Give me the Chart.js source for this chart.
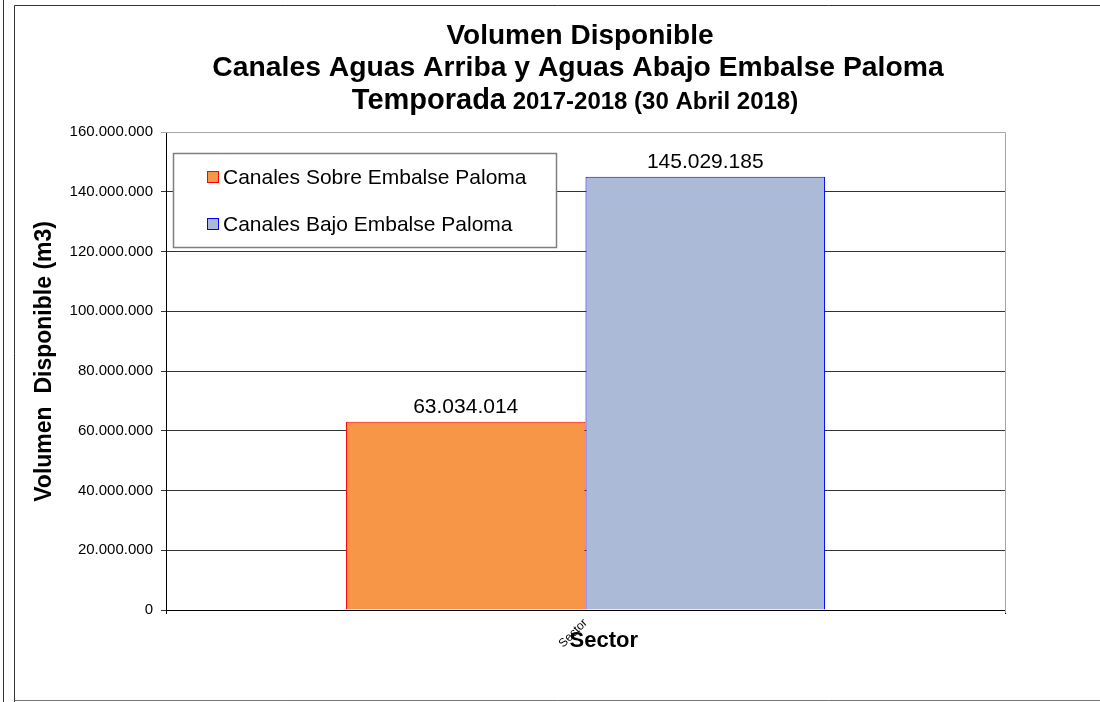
<!DOCTYPE html>
<html>
<head>
<meta charset="utf-8">
<script src="https://cdn.jsdelivr.net/npm/chart.js@4.4.0/dist/chart.umd.min.js"></script>
<style>
    html, body { margin: 0; padding: 0; background: #fff; }
    #wrap { width: 1100px; height: 702px; position: relative; }
</style>
</head>
<body>
<div id="wrap"><canvas id="chart"></canvas></div>
<script>
    const categories = ['Sector'];
    const seriesNames = ['Canales Sobre Embalse Paloma', 'Canales Bajo Embalse Paloma'];
    const sobreValues = [63034014];
    const bajoValues = [145029185];
    const yTicks = [0, 20000000, 40000000, 60000000, 80000000, 100000000, 120000000, 140000000, 160000000];
    const titleLine1 = 'Volumen Disponible';
    const titleLine2 = 'Canales Aguas Arriba y Aguas Abajo Embalse Paloma';
    const titleLine3 = ['Temporada', ' 2017-2018 (30 Abril 2018)'];

    const FONT = "'Liberation Sans', Arial, sans-serif";
    Chart.defaults.font.family = FONT;
    Chart.defaults.color = '#000';

    function fmt(v) {
        return String(Math.round(v)).replace(/\B(?=(\d{3})+(?!\d))/g, '.');
    }

    // white page + the outer frame lines
    const framePlugin = {
        id: 'frame',
        beforeDraw(chart) {
            const ctx = chart.ctx;
            ctx.save();
            ctx.fillStyle = '#fff';
            ctx.fillRect(0, 0, chart.width, chart.height);
            ctx.lineWidth = 1;
            ctx.strokeStyle = '#333';
            ctx.beginPath();
            ctx.moveTo(3.5, 0); ctx.lineTo(3.5, chart.height);
            ctx.moveTo(14.5, chart.height); ctx.lineTo(14.5, 5.5); ctx.lineTo(chart.width, 5.5);
            ctx.stroke();
            ctx.strokeStyle = '#777';
            ctx.beginPath();
            ctx.moveTo(14.5, 700.5); ctx.lineTo(chart.width, 700.5);
            ctx.stroke();
            ctx.restore();
        }
    };

    const titlePlugin = {
        id: 'mixedTitle',
        afterDraw(chart) {
            const ctx = chart.ctx;
            ctx.save();
            ctx.fillStyle = '#000';
            ctx.textBaseline = 'alphabetic';
            ctx.textAlign = 'center';
            ctx.font = 'bold 28px ' + FONT;
            ctx.fillText(titleLine1, 580, 44);
            ctx.font = 'bold 28.3px ' + FONT;
            ctx.fillText(titleLine2, 578, 76);
            // third line mixes two sizes
            const f1 = 'bold 29px ' + FONT, f2 = 'bold 24px ' + FONT;
            ctx.font = f1; const w1 = ctx.measureText(titleLine3[0]).width;
            ctx.font = f2; const w2 = ctx.measureText(titleLine3[1]).width;
            const x = 575 - (w1 + w2) / 2;
            ctx.textAlign = 'left';
            ctx.font = f1; ctx.fillText(titleLine3[0], x, 109);
            ctx.font = f2; ctx.fillText(titleLine3[1], x + w1, 109);
            ctx.restore();
        }
    };

    const plotBoxPlugin = {
        id: 'plotBox',
        beforeDatasetsDraw(chart) {
            const a = chart.chartArea, ctx = chart.ctx;
            ctx.save();
            ctx.strokeStyle = '#a6a6a6';
            ctx.lineWidth = 1;
            ctx.beginPath();
            ctx.moveTo(a.left, a.top + 0.5); ctx.lineTo(a.right + 0.5, a.top + 0.5);
            ctx.lineTo(a.right + 0.5, a.bottom + 3);
            ctx.stroke();
            ctx.restore();
        }
    };

    const labelsPlugin = {
        id: 'barLabels',
        afterDatasetsDraw(chart) {
            const ctx = chart.ctx;
            ctx.save();
            ctx.fillStyle = '#000';
            ctx.font = '21px ' + FONT;
            ctx.textAlign = 'center';
            ctx.textBaseline = 'alphabetic';
            chart.data.datasets.forEach((ds, i) => {
                chart.getDatasetMeta(i).data.forEach((bar, j) => {
                    ctx.fillText(fmt(ds.data[j]), bar.x, bar.y - 9);
                });
            });

            // boxed legend sitting inside the plot
            const bx = 173.5, by = 153.5, bw = 383, bh = 94;
            ctx.fillStyle = '#fff';
            ctx.fillRect(bx, by, bw, bh);
            ctx.strokeStyle = '#808080';
            ctx.lineWidth = 1.5;
            ctx.strokeRect(bx, by, bw, bh);
            ctx.textAlign = 'left';
            ctx.textBaseline = 'middle';
            ctx.lineWidth = 1;
            chart.data.datasets.forEach((ds, i) => {
                const cy = 177 + i * 47;
                ctx.fillStyle = ds.backgroundColor;
                ctx.fillRect(207.5, cy - 5.5, 11, 11);
                ctx.strokeStyle = ds.borderColor;
                ctx.strokeRect(207.5, cy - 5.5, 11, 11);
                ctx.fillStyle = '#000';
                ctx.font = '21px ' + FONT;
                ctx.fillText(ds.label, 223, cy + 1);
            });
            ctx.restore();
        }
    };

    new Chart(document.getElementById('chart').getContext('2d'), {
        type: 'bar',
        data: {
            labels: categories,
            datasets: [{
                label: seriesNames[0],
                data: sobreValues,
                backgroundColor: '#F79646',
                borderColor: '#FF0000',
                borderWidth: 1,
                categoryPercentage: 0.571,
                barPercentage: 1.0
            }, {
                label: seriesNames[1],
                data: bajoValues,
                backgroundColor: '#AABAD7',
                borderColor: '#0000FF',
                borderWidth: 1,
                categoryPercentage: 0.571,
                barPercentage: 1.0
            }]
        },
        options: {
            responsive: true,
            maintainAspectRatio: false,
            animation: false,
            layout: { padding: { top: 132, right: 95, left: 0, bottom: 0 } },
            plugins: {
                legend: { display: false },
                title: { display: false },
                tooltip: { enabled: false }
            },
            scales: {
                x: {
                    offset: true,
                    grid: { display: true, drawOnChartArea: false, offset: true, tickLength: 4, color: '#000' },
                    border: { display: true, color: '#000' },
                    ticks: { minRotation: 45, maxRotation: 45, padding: 2, font: { size: 12 }, color: '#000' },
                    title: {
                        display: true,
                        text: '      Sector',
                        font: { size: 22, weight: 'bold' },
                        color: '#000',
                        padding: { top: 0, bottom: 48 }
                    },
                    afterFit: s => { s.height = 92; }
                },
                y: {
                    min: 0,
                    max: 160000000,
                    afterBuildTicks: s => { s.ticks = yTicks.map(v => ({ value: v })); },
                    ticks: { padding: 8, font: { size: 15 }, color: '#000', callback: v => fmt(v) },
                    grid: {
                        tickLength: 5,
                        color: ctx => ctx.tick && ctx.tick.value === 160000000 ? '#a6a6a6' : '#333'
                    },
                    border: { color: '#000' },
                    title: {
                        display: true,
                        text: '   Volumen  Disponible (m3)',
                        font: { size: 23, weight: 'bold' },
                        color: '#000',
                        padding: { top: 31 }
                    },
                    afterFit: s => { s.width = 166; }
                }
            }
        },
        plugins: [framePlugin, plotBoxPlugin, labelsPlugin, titlePlugin]
    });
</script>
</body>
</html>
